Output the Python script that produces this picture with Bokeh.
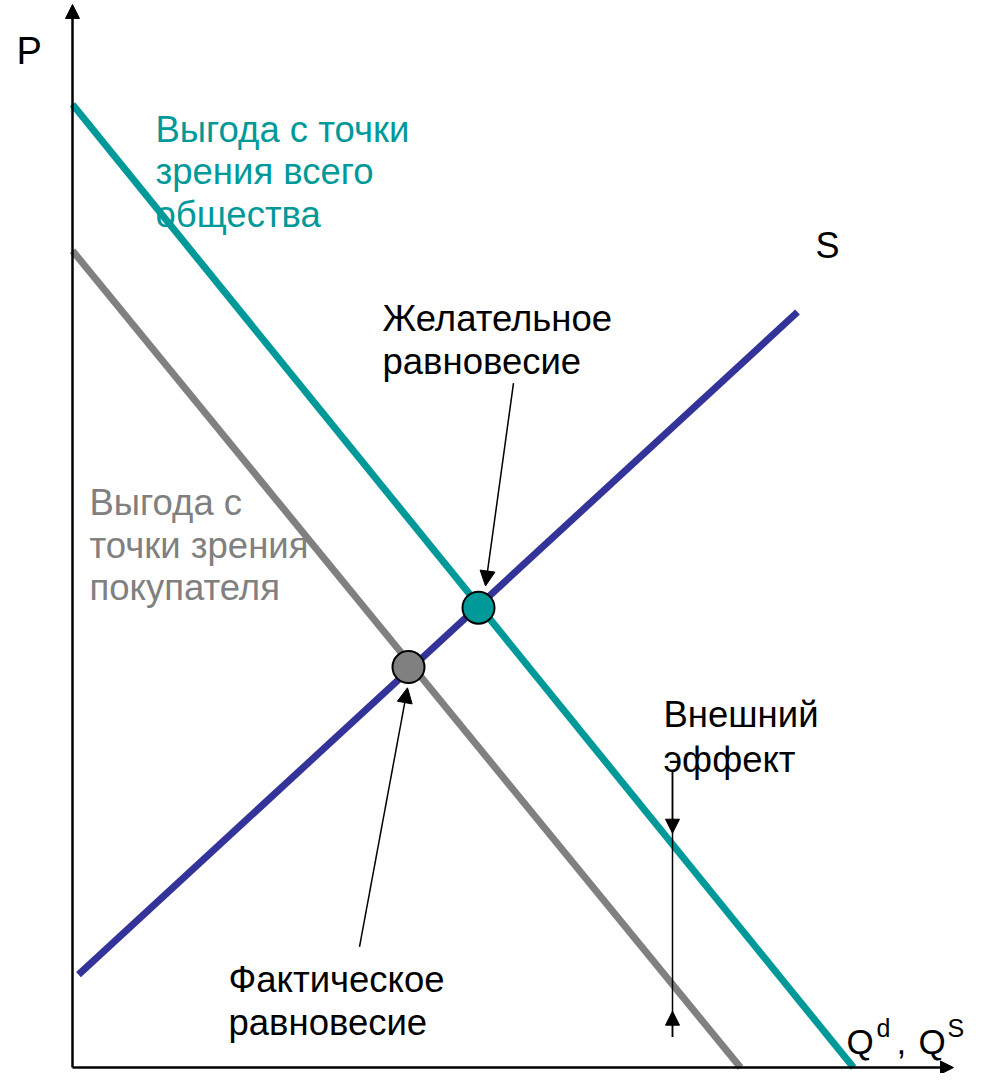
from bokeh.plotting import figure
from bokeh.models import Range1d, Arrow, NormalHead
from bokeh.core.properties import value
from bokeh.embed import file_html
from bokeh.resources import INLINE

# ---- data (Q, P units) ----
social_q = [0.0, 78.1]
social_p = [97.4, 0.0]
private_q = [0.0, 66.8]
private_p = [82.6, 0.0]
supply_q = [0.6, 72.5]
supply_p = [9.4, 76.4]
desired_eq_q = [40.6]
desired_eq_p = [46.5]
actual_eq_q = [33.6]
actual_eq_p = [40.5]
ext_q = 60.0
ext_top_p = 29.9
ext_bottom_p = 3.1
ext_tip_top_p = 23.7
ext_tip_bottom_p = 5.7

TEAL = "#009999"
BLUE = "#333399"
GRAY = "#808080"
FONT = value("Liberation Sans")

# helpers converting layout pixel positions to data units
def X(px):
    return (px - 72) / 10.0

def Y(py):
    return (1084 - py) / 10.0

p = figure(width=967, height=1073, output_backend="svg", toolbar_location=None,
           x_range=Range1d(X(0), X(967)), y_range=Range1d(Y(1090), Y(5)),
           x_axis_type=None, y_axis_type=None, min_border=0)
p.outline_line_color = None
p.xgrid.visible = False
p.ygrid.visible = False
p.background_fill_color = "white"

def label(txt, px, py, size, color="black"):
    p.text(x=[X(px)], y=[Y(py)], text=[txt], text_font=FONT,
           text_font_size=value(f"{size}px"), text_color=color,
           text_align="left", text_baseline="alphabetic")

TS = 36.5
# texts
for i, t in enumerate(["Выгода с точки", "зрения всего", "общества"]):
    label(t, 155, 135 + 43 * i, TS, TEAL)
for i, t in enumerate(["Выгода с", "точки зрения", "покупателя"]):
    label(t, 89, 513 + 43 * i, TS, GRAY)
for i, t in enumerate(["Желательное", "равновесие"]):
    label(t, 382, 327 + 43 * i, TS)
for i, t in enumerate(["Фактическое", "равновесие"]):
    label(t, 228, 995 + 43 * i, TS)
for i, t in enumerate(["Внешний", "эффект"]):
    label(t, 663, 727 + 45 * i, TS)
label("P", 16, 56, 38)
label("S", 815, 253, 36)
label("Q", 846, 1058, 35)
label("d", 876, 1044, 25)
label(",", 896, 1058, 35)
label("Q", 918, 1058, 35)
label("S", 947, 1044, 25)

# curves
p.line(private_q, private_p, line_color=GRAY, line_width=7)
p.line(social_q, social_p, line_color=TEAL, line_width=7)
p.line(supply_q, supply_p, line_color=BLUE, line_width=7)

# axes with arrows
def arrow(x0, y0, x1, y1, lw, size):
    p.add_layout(Arrow(x_start=x0, y_start=y0, x_end=x1, y_end=y1,
                       line_color="black", line_width=lw,
                       end=NormalHead(size=size, fill_color="black",
                                      line_color="black", line_width=1)))

arrow(0, 0, 0, Y(9), 2.5, 14)
arrow(0, 0, X(953), 0, 2.5, 13)

# pointer arrows
arrow(X(513), Y(392), desired_eq_q[0] + 0.7, desired_eq_p[0] + 2.2, 1.5, 15)
arrow(X(359), Y(962), actual_eq_q[0] - 0.1, actual_eq_p[0] - 2.1, 1.5, 15)

# externality
p.segment(x0=[ext_q], y0=[ext_top_p], x1=[ext_q], y1=[ext_bottom_p],
          line_color="black", line_width=1.5)
arrow(ext_q, ext_top_p, ext_q, ext_tip_top_p, 1.5, 14)
arrow(ext_q, ext_bottom_p, ext_q, ext_tip_bottom_p, 1.5, 14)

# equilibrium points
p.scatter(desired_eq_q, desired_eq_p, size=32, fill_color=TEAL,
          line_color="black", line_width=2)
p.scatter(actual_eq_q, actual_eq_p, size=32, fill_color=GRAY,
          line_color="black", line_width=2)

open("out.html", "w").write(file_html(p, INLINE))
